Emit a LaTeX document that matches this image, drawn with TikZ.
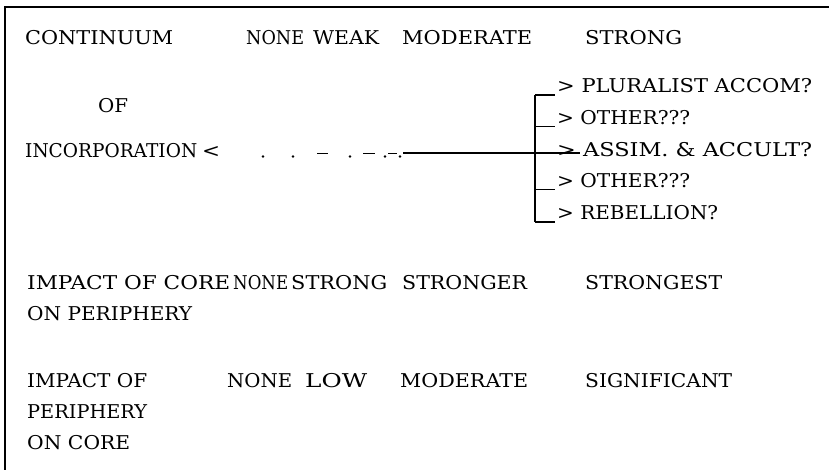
\documentclass[tikz,border=0pt]{standalone}
\usepackage{fontspec}
\usepackage{graphicx}
\setmainfont{DejaVu Serif}
\usetikzlibrary{calc}
\newcommand\fitw[2]{\resizebox{#1pt}{\height}{#2}}
\begin{document}
\begin{tikzpicture}[x=1pt,y=-1pt,
  txt/.style={anchor=base west, inner sep=0pt, font=\fontsize{19}{24}\selectfont},
  frameline/.style={line width=1.6pt},
  rule/.style={line width=1.3pt},
  dotmark/.style={fill=black},
  dashmark/.style={line width=1.2pt}]
\useasboundingbox (0,0) rectangle (829,470);
% frame (left and top only)
\coordinate (fbl) at (5,470);
\coordinate (ftl) at (5,7);
\coordinate (ftr) at (829,7);
\draw[frameline] (fbl) -- (ftl) -- (ftr);

% row 1
\node[txt] (cont) at (25,45) {\fitw{148}{CONTINUUM}};
\node[txt] (none1) at (246,45) {\fitw{58}{NONE}};
\node[txt] (weak) at (313,45) {\fitw{66}{WEAK}};
\node[txt] (mod1) at (402,45) {\fitw{130}{MODERATE}};
\node[txt] (strong1) at (585,45) {\fitw{97}{STRONG}};
\node[txt] (of) at (98,113) {\fitw{30}{OF}};
\node[txt] (incorp) at (25,158) {\fitw{172}{INCORPORATION}};
\node[txt] (lt) at (202,158) {\fitw{18}{<}};

% dotted / dashed run
\fill[dotmark] (263,156.5) circle (1.4);
\fill[dotmark] (293,156.5) circle (1.4);
\draw[dashmark] (317,153.5) -- (328,153.5);
\fill[dotmark] (350,156.5) circle (1.4);
\draw[dashmark] (363,153.5) -- (375,153.5);
\fill[dotmark] (385,156.5) circle (1.4);
\draw[dashmark] (388,153.5) -- (397,153.5);
\fill[dotmark] (400,156.5) circle (1.4);

% outcomes
\node[txt] (plur) at (557,93) {\fitw{255}{> PLURALIST ACCOM?}};
\node[txt] (oth1) at (557,125) {\fitw{133}{> OTHER???}};
\node[txt] (assim) at (557,157) {\fitw{255}{> ASSIM. \& ACCULT?}};
\node[txt] (oth2) at (557,188) {\fitw{133}{> OTHER???}};
\node[txt] (rebel) at (557,220) {\fitw{161}{> REBELLION?}};

% connectors
\coordinate (lstart) at (403,153);
\coordinate (lend) at (580,153);
\coordinate (btop) at (535,95);
\coordinate (bbot) at (535,222);
\draw[rule] (lstart) -- (lend);
\draw[rule] (btop) -- (bbot);
\draw[rule] (btop) -- ($(plur.base west)+(-2,2)$);
\draw[rule] (535,126.5) -- ($(oth1.base west)+(-2,1.5)$);
\draw[rule] (535,189.5) -- ($(oth2.base west)+(-2,1.5)$);
\draw[rule] (bbot) -- ($(rebel.base west)+(-2,2)$);

% row 2
\node[txt] (imp1) at (27,289) {\fitw{203}{IMPACT OF CORE}};
\node[txt] (none2) at (233,289) {\fitw{55}{NONE}};
\node[txt] (strong2) at (291,289) {\fitw{96}{STRONG}};
\node[txt] (stronger) at (402,289) {\fitw{125}{STRONGER}};
\node[txt] (strongest) at (585,289) {\fitw{137}{STRONGEST}};
\node[txt] (onper) at (27,320) {\fitw{165}{ON PERIPHERY}};

% row 3
\node[txt] (imp2) at (27,387) {\fitw{120}{IMPACT OF}};
\node[txt] (none3) at (227,387) {\fitw{65}{NONE}};
\node[txt] (low) at (305,387) {\fitw{62}{LOW}};
\node[txt] (mod3) at (400,387) {\fitw{128}{MODERATE}};
\node[txt] (sig) at (585,387) {\fitw{147}{SIGNIFICANT}};
\node[txt] (per) at (27,418) {\fitw{120}{PERIPHERY}};
\node[txt] (oncore) at (27,449) {\fitw{103}{ON CORE}};
\end{tikzpicture}
\end{document}
